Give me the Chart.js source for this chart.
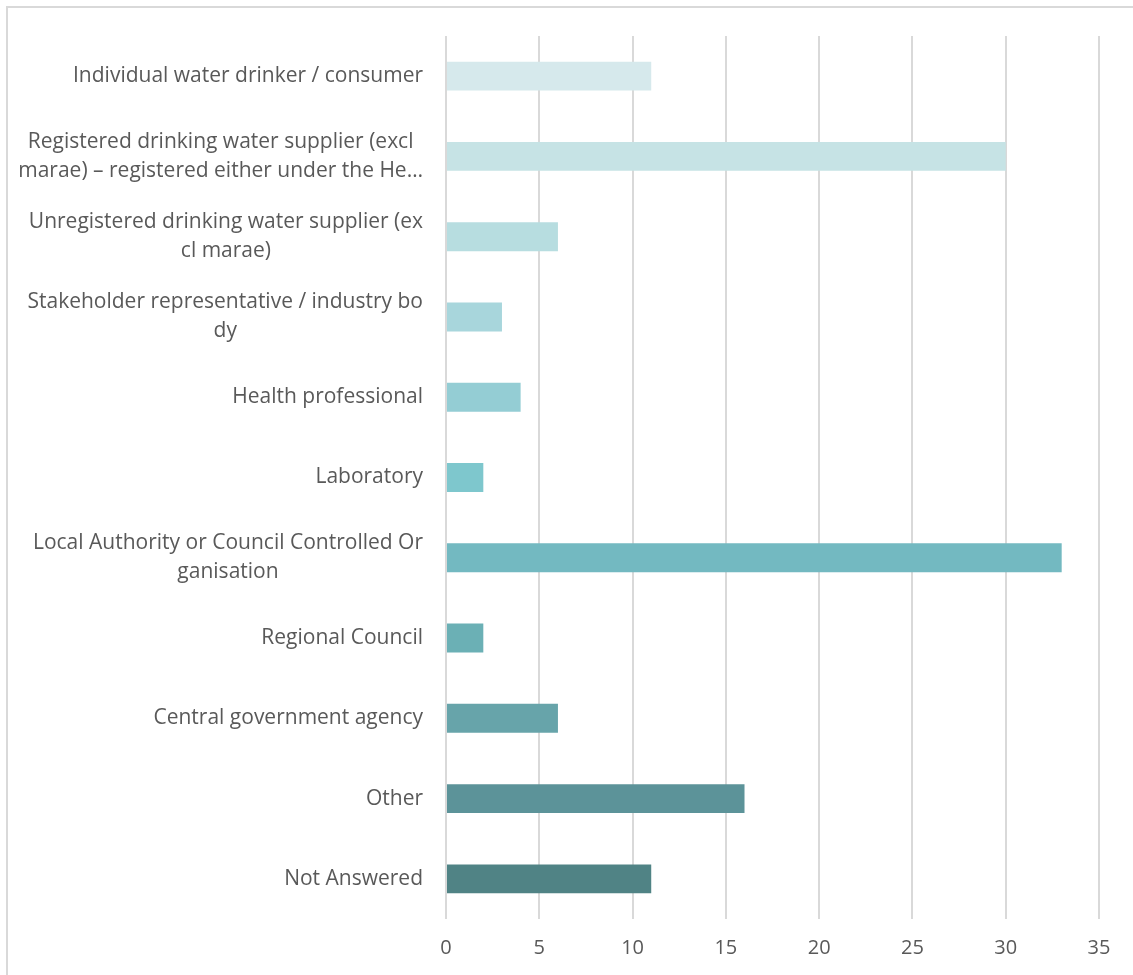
<!DOCTYPE html>
<html><head><meta charset="utf-8">
<script src="https://cdn.jsdelivr.net/npm/chart.js@4"></script>
<style>
html,body{margin:0;padding:0;background:#fff;overflow:hidden;}
#frame{position:absolute;left:6px;top:6px;width:1200px;height:1100px;border:2px solid #D9D9D9;box-sizing:border-box;}
#wrap{position:absolute;left:0;top:0;width:1133px;height:975px;}
</style></head>
<body>
<div id="frame"></div>
<div id="wrap"><canvas id="c"></canvas></div>
<script>
const categories = [
  "Individual water drinker / consumer",
  ["Registered drinking water supplier (excl", "marae) – registered either under the He…"],
  ["Unregistered drinking water supplier (ex", "cl marae)"],
  ["Stakeholder representative / industry bo", "dy"],
  "Health professional",
  "Laboratory",
  ["Local Authority or Council Controlled Or", "ganisation"],
  "Regional Council",
  "Central government agency",
  "Other",
  "Not Answered"
];
const values = [11, 30, 6, 3, 4, 2, 33, 2, 6, 16, 11];
const barColors = ["#D6E9EC","#C6E3E5","#B7DDE0","#A8D6DC","#94CDD4","#7EC7CD","#73B9C1","#6BB0B5","#67A4AA","#5C9399","#508385"];
const xTicks = [0,5,10,15,20,25,30,35];

const LABEL_FONT = '21px "Open Sans"';
const labelPlugin = {
  id: 'catLabels',
  afterDraw(chart) {
    const ctx = chart.ctx, ys = chart.scales.y;
    const right = ys.right - 23;
    const lh = 29;
    ctx.save();
    ctx.font = LABEL_FONT;
    ctx.fillStyle = '#595959';
    ctx.textBaseline = 'middle';
    ctx.textAlign = 'center';
    categories.forEach((lab, i) => {
      const lines = Array.isArray(lab) ? lab : [lab];
      const w = Math.max(...lines.map(l => ctx.measureText(l).width));
      const cx = right - w / 2;
      const y0 = ys.getPixelForTick(i) - (lines.length - 1) * lh / 2;
      lines.forEach((l, k) => ctx.fillText(l, cx, y0 + k * lh));
    });
    ctx.restore();
  }
};

new Chart(document.getElementById('c'), {
  type: 'bar',
  data: { labels: categories, datasets: [{ data: values, backgroundColor: barColors, barPercentage: 0.36, categoryPercentage: 1 }] },
  options: {
    indexAxis: 'y', responsive: true, maintainAspectRatio: false, animation: false,
    layout: { padding: { top: 36, right: 34, left: 0, bottom: 0 } },
    plugins: { legend: { display: false }, tooltip: { enabled: false } },
    scales: {
      x: {
        min: 0, max: 35,
        afterBuildTicks: s => { s.ticks = xTicks.map(v => ({ value: v })); },
        grid: { color: '#D9D9D9', lineWidth: 2, drawTicks: false },
        border: { display: false },
        ticks: { color: '#595959', font: { family: 'Open Sans', size: 20 }, padding: 17 },
        afterFit: s => { s.height = 56; }
      },
      y: {
        grid: { display: false },
        border: { display: false },
        ticks: { display: false },
        afterFit: s => { s.width = 446; }
      }
    }
  },
  plugins: [labelPlugin]
});
</script>
</body></html>
